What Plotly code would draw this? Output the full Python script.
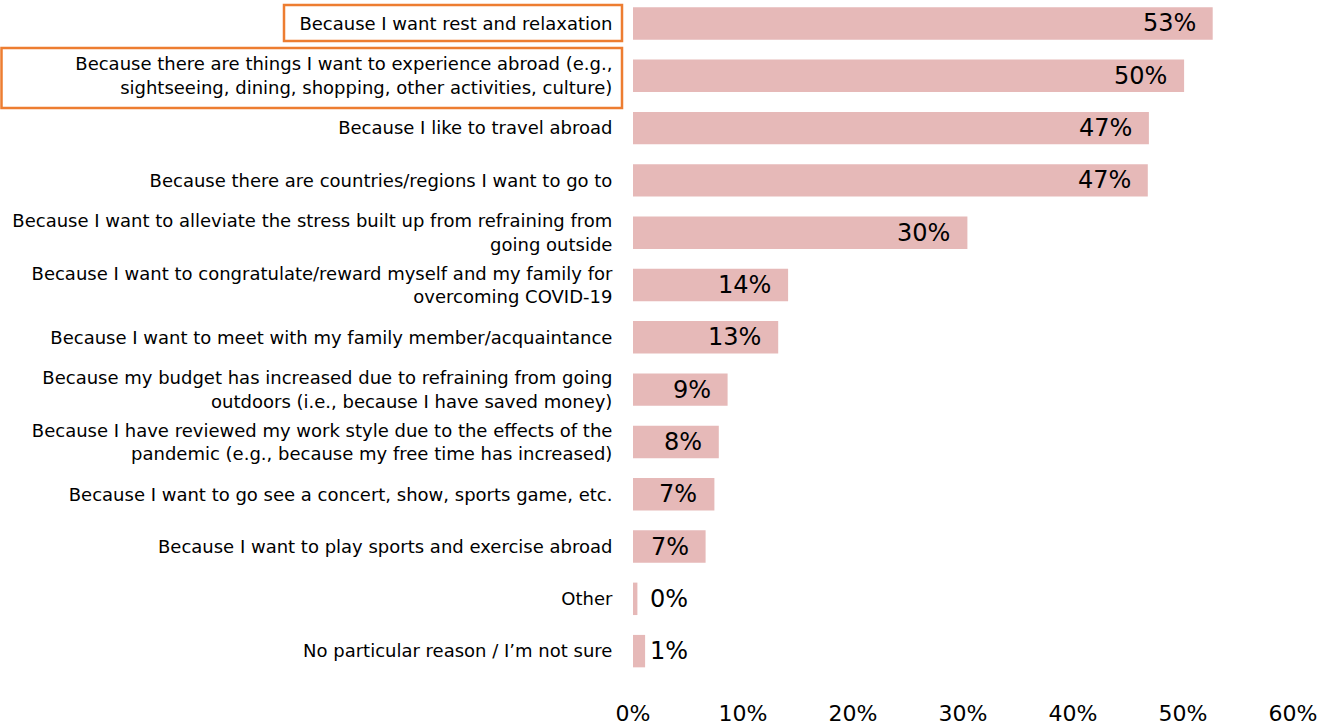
import plotly.graph_objects as go

categories = [
    "Because I want rest and relaxation",
    "Because there are things I want to experience abroad (e.g.,<br>sightseeing, dining, shopping, other activities, culture)",
    "Because I like to travel abroad",
    "Because there are countries/regions I want to go to",
    "Because I want to alleviate the stress built up from refraining from<br>going outside",
    "Because I want to congratulate/reward myself and my family for<br>overcoming COVID-19",
    "Because I want to meet with my family member/acquaintance",
    "Because my budget has increased due to refraining from going<br>outdoors (i.e., because I have saved money)",
    "Because I have reviewed my work style due to the effects of the<br>pandemic (e.g., because my free time has increased)",
    "Because I want to go see a concert, show, sports game, etc.",
    "Because I want to play sports and exercise abroad",
    "Other",
    "No particular reason / I\u2019m not sure",
]
values = [52.7, 50.1, 46.9, 46.8, 30.4, 14.1, 13.2, 8.6, 7.8, 7.4, 6.6, 0.4, 1.1]
value_labels = ["53%", "50%", "47%", "47%", "30%", "14%", "13%", "9%", "8%", "7%", "7%", "0%", "1%"]
x_ticks = [0, 10, 20, 30, 40, 50, 60]
x_tick_labels = ["0%", "10%", "20%", "30%", "40%", "50%", "60%"]

positions = list(range(len(categories)))

FONT = "DejaVu Sans, Verdana, sans-serif"

fig = go.Figure(go.Bar(
    x=values,
    y=positions,
    orientation="h",
    marker=dict(color="#E6B9B8", line=dict(width=0)),
    width=0.62,
    cliponaxis=False,
    hoverinfo="skip",
))

annotations = []
for p, v, lab in zip(positions, values, value_labels):
    if v < 6.0:
        annotations.append(dict(x=0, y=p, xref="x", yref="y", text=lab, showarrow=False,
                                xanchor="left", xshift=15, font=dict(family=FONT, size=24, color="#000000")))
    else:
        annotations.append(dict(x=v, y=p, xref="x", yref="y", text=lab, showarrow=False,
                                xanchor="right", xshift=-15, font=dict(family=FONT, size=24, color="#000000")))

# plot area spans page x 633..1293, page y 0..680 (body margin removed)
PW, PH, L, T = 660.0, 680.0, 633.0, 0.0
def px_x(px):
    return (px - L) / PW
def px_y(py):
    return 1 - (py - T) / PH

shapes = [
    dict(type="rect", xref="paper", yref="paper", x0=px_x(284), x1=px_x(622), y0=px_y(41), y1=px_y(5),
         line=dict(color="#ED7D31", width=2.5), fillcolor="rgba(0,0,0,0)"),
    dict(type="rect", xref="paper", yref="paper", x0=px_x(1.5), x1=px_x(622), y0=px_y(108), y1=px_y(48),
         line=dict(color="#ED7D31", width=2.5), fillcolor="rgba(0,0,0,0)"),
]

fig.update_layout(
    width=1338, height=725,
    margin=dict(l=633, r=45, t=0, b=45, autoexpand=False),
    paper_bgcolor="white", plot_bgcolor="white",
    showlegend=False,
    annotations=annotations,
    shapes=shapes,
    xaxis=dict(range=[0, 60], tickvals=x_ticks, ticktext=x_tick_labels, showgrid=False,
               zeroline=False, showline=False, ticks="outside", ticklen=14, tickcolor="rgba(0,0,0,0)",
               tickfont=dict(family=FONT, size=22, color="#000000"), fixedrange=True),
    yaxis=dict(range=[12.552, -0.449], tickvals=positions, ticktext=categories, showgrid=False,
               zeroline=False, showline=False, ticks="outside", ticklen=16, tickcolor="rgba(0,0,0,0)",
               tickfont=dict(family=FONT, size=18, color="#000000"), fixedrange=True),
)

fig.write_html("out.html", config={"displayModeBar": False},
               post_script="document.body.style.margin='0px';document.body.style.overflow='hidden';")
